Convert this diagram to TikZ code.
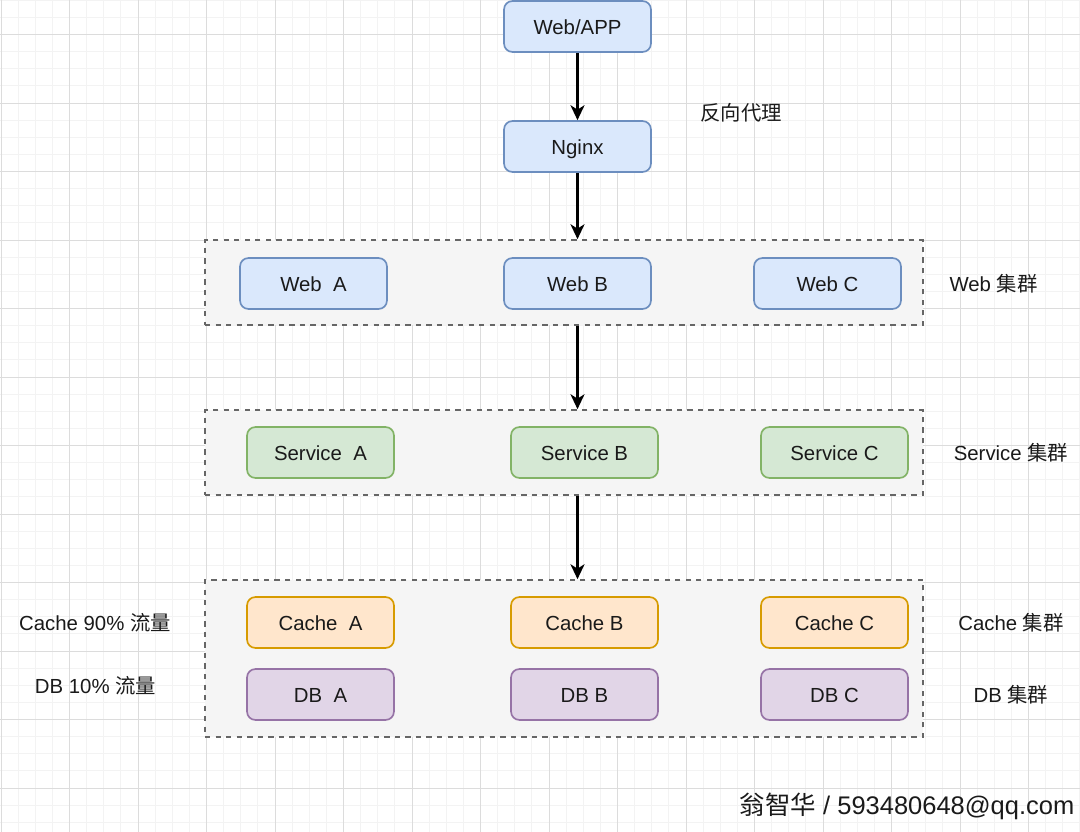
\documentclass[tikz,border=0pt]{standalone}
\usepackage{fontspec}
\setmainfont{Liberation Sans}
\newfontfamily\cjk{Noto Sans CJK SC}
\usepackage{xcolor}
\usetikzlibrary{arrows.meta,positioning}
\definecolor{bluefill}{HTML}{DAE8FC}
\definecolor{bluedraw}{HTML}{6C8EBF}
\definecolor{greenfill}{HTML}{D5E8D4}
\definecolor{greendraw}{HTML}{82B366}
\definecolor{orangefill}{HTML}{FFE6CC}
\definecolor{orangedraw}{HTML}{D79B00}
\definecolor{purplefill}{HTML}{E1D5E7}
\definecolor{purpledraw}{HTML}{9673A6}
\definecolor{groupfill}{HTML}{F5F5F5}
\definecolor{groupdraw}{HTML}{666666}
\definecolor{minorline}{HTML}{F3F3F3}
\definecolor{majorline}{HTML}{DCDCDC}
\definecolor{inktext}{HTML}{1A1A1A}

\begin{document}
\begin{tikzpicture}[
      x=0.02cm, y=-0.02cm,
      font=\fontsize{11.6}{14}\selectfont, text=inktext,
      box/.style={draw, rounded corners=0.17cm, line width=0.95pt,
        minimum width=2.94cm, minimum height=1.02cm, inner sep=0pt,
        text height=10pt, text depth=1.2pt},
      bluebox/.style={box, draw=bluedraw, fill=bluefill},
      greenbox/.style={box, draw=greendraw, fill=greenfill},
      orangebox/.style={box, draw=orangedraw, fill=orangefill},
      purplebox/.style={box, draw=purpledraw, fill=purplefill},
      group/.style={draw=groupdraw, fill=groupfill, line width=0.95pt,
        dash pattern=on 3pt off 3pt, minimum width=14.36cm, inner sep=0pt},
      link/.style={line width=1.15pt, -{Stealth[length=8.5pt, width=8pt, inset=2.5pt]}},
      note/.style={inner sep=0pt, text height=10pt, text depth=1.2pt}
    ]
    \useasboundingbox (0,0) rectangle (1080,832);
    \fill[white] (0,0) rectangle (1080,832);
    % background grid
    \foreach \i in {0,...,63} {
      \draw[minorline, line width=0.5pt] ({1+17.125*\i},0) -- ({1+17.125*\i},832);
    }
    \foreach \i in {-2,...,49} {
      \draw[minorline, line width=0.5pt] (0,{34.5+17.125*\i}) -- (1080,{34.5+17.125*\i});
    }
    \foreach \i in {0,...,15} {
      \draw[majorline, line width=0.5pt] ({1+68.5*\i},0) -- ({1+68.5*\i},832);
    }
    \foreach \i in {-1,...,12} {
      \draw[majorline, line width=0.5pt] (0,{34.5+68.5*\i}) -- (1080,{34.5+68.5*\i});
    }

    % clusters
    \node[group, minimum height=1.7cm] (webgroup) at (564,282.5) {};
    \node[group, minimum height=1.7cm] (servicegroup) at (564,452.5) {};
    \node[group, minimum height=3.14cm] (cachegroup) at (564,658.5) {};

    % entry
    \node[bluebox] (app) at (577.5,26.5) {Web/APP};
    \node[bluebox] (nginx) at (577.5,146.5) {Nginx};

    % web tier
    \node[bluebox] (weba) at (313.5,283.5) {Web\ \ A};
    \node[bluebox] (webb) at (577.5,283.5) {Web B};
    \node[bluebox] (webc) at (827.5,283.5) {Web C};

    % service tier
    \node[greenbox] (servicea) at (320.5,452.5) {Service\ \ A};
    \node[greenbox] (serviceb) at (584.5,452.5) {Service B};
    \node[greenbox] (servicec) at (834.5,452.5) {Service C};

    % storage tier
    \node[orangebox] (cachea) at (320.5,622.5) {Cache\ \ A};
    \node[orangebox] (cacheb) at (584.5,622.5) {Cache B};
    \node[orangebox] (cachec) at (834.5,622.5) {Cache C};
    \node[purplebox] (dba) at (320.5,694.5) {DB\ \ A};
    \node[purplebox] (dbb) at (584.5,694.5) {DB B};
    \node[purplebox] (dbc) at (834.5,694.5) {DB C};

    % side labels
    \node[note] (proxy) at (741,113) {\cjk 反向代理};
    \node[note] (weblabel) at (993.5,283.5) {Web {\cjk 集群}};
    \node[note] (servicelabel) at (1011,453) {Service {\cjk 集群}};
    \node[note] (cachelabel) at (1011,623) {Cache {\cjk 集群}};
    \node[note] (dblabel) at (1011,695) {DB {\cjk 集群}};
    \node[note] (cacheshare) at (95,623) {Cache 90\% {\cjk 流量}};
    \node[note] (dbshare) at (95.5,686) {DB 10\% {\cjk 流量}};
    \node[note, font=\fontsize{14.5}{17}\selectfont, text height=12.5pt, text depth=1.5pt]
      (mark) at (907,805) {{\cjk 翁智华} / 593480648@qq.com};

    % flow
    \draw[link] (app) -- (nginx);
    \draw[link] (nginx) -- (nginx |- webgroup.north);
    \draw[link] (webgroup.south -| nginx) -- (servicegroup.north -| nginx);
    \draw[link] (servicegroup.south -| nginx) -- (cachegroup.north -| nginx);
  \end{tikzpicture}
\end{document}
